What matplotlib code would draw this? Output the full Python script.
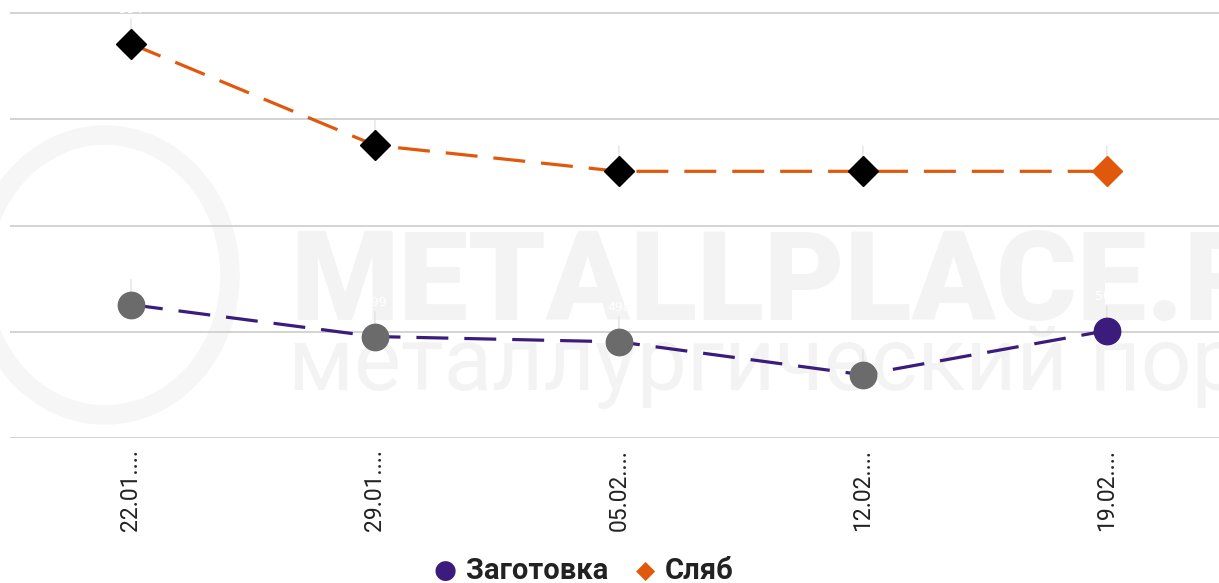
import matplotlib.pyplot as plt
import matplotlib.patches as mpatches
import numpy as np

# данные
dates = ['22.01....', '29.01....', '05.02....', '12.02....', '19.02....']
billet = [505.1, 499.1, 498.1, 491.9, 500.2]   # Заготовка
slab = [554.2, 535.1, 530.2, 530.2, 530.2]     # Сляб

billet_color = '#3b1c7c'
slab_color = '#e0580c'
grid_color = '#cccccc'
wm_color = '#f3f3f3'

fig = plt.figure(figsize=(12.19, 5.83), dpi=100)
ax = fig.add_axes([10/1219, 145/583, 1209/1219, 438/583])

# водяной знак
fig.text(290/1219, 1 - 320/583, 'METALLPLACE.RU', fontsize=89, fontweight='black',
         family='Roboto', color=wm_color, zorder=0, va='baseline')
fig.text(288/1219, 1 - 390/583, 'металлургический портал', fontsize=64,
         family='Roboto', color=wm_color, zorder=0, va='baseline')
fig.patches.append(mpatches.Ellipse((105/1219, 1 - 275/583), 250/1219, 280/583,
                                    transform=fig.transFigure, fill=False,
                                    ec='#f6f6f6', lw=14, zorder=0))

x = np.arange(len(dates))
ax.set_facecolor('none')
ax.set_zorder(2)

ax.plot(x, slab, color=slab_color, lw=2.3, dashes=(10, 5), zorder=3)
ax.plot(x[:-1], slab[:-1], 'D', ms=15, color='black', zorder=4)
ax.plot(x[-1:], slab[-1:], 'D', ms=15, color=slab_color, zorder=4)

ax.plot(x, billet, color=billet_color, lw=2.3, dashes=(10, 5), zorder=3)
ax.plot(x[:-1], billet[:-1], 'o', ms=19, color='#6b6b6b', zorder=4)
ax.plot(x[-1:], billet[-1:], 'o', ms=19, color=billet_color, zorder=4)

# подписи значений (белые, как в оригинале)
for series in (slab, billet):
    for xi, v in zip(x, series):
        ax.annotate(f'{v:.0f}', (xi, v), xytext=(0, 20), textcoords='offset points',
                    ha='center', va='bottom', color='white', fontsize=9,
                    arrowprops=dict(arrowstyle='-', color='#e3e3e3', lw=1.0,
                                    shrinkA=0, shrinkB=9),
                    zorder=2)

ax.set_xlim(-0.496, 4.46)
ax.set_ylim(480, 562.45)
ax.set_yticks([480, 500, 520, 540, 560])
ax.yaxis.grid(True, color=grid_color, lw=1.2, zorder=1)
ax.set_axisbelow(True)
ax.tick_params(axis='y', left=False, labelleft=False)
ax.set_xticks(x)
ax.set_xticklabels(dates, rotation=90, family='Roboto', fontsize=16.5, color='#222222')
ax.tick_params(axis='x', length=0, pad=8)
for s in ax.spines.values():
    s.set_visible(False)

# легенда
ly = 1 - 571/583
fig.text(445/1219, ly, '●', fontsize=19, color=billet_color, va='center', ha='center')
fig.text(466/1219, ly, 'Заготовка', fontsize=21, fontweight='bold', family='Roboto',
         color='#222222', va='center')
fig.text(646/1219, ly, '◆', fontsize=18, color=slab_color, va='center', ha='center')
fig.text(665/1219, ly, 'Сляб', fontsize=21, fontweight='bold', family='Roboto',
         color='#222222', va='center')

fig.savefig('out.png', dpi=100)
